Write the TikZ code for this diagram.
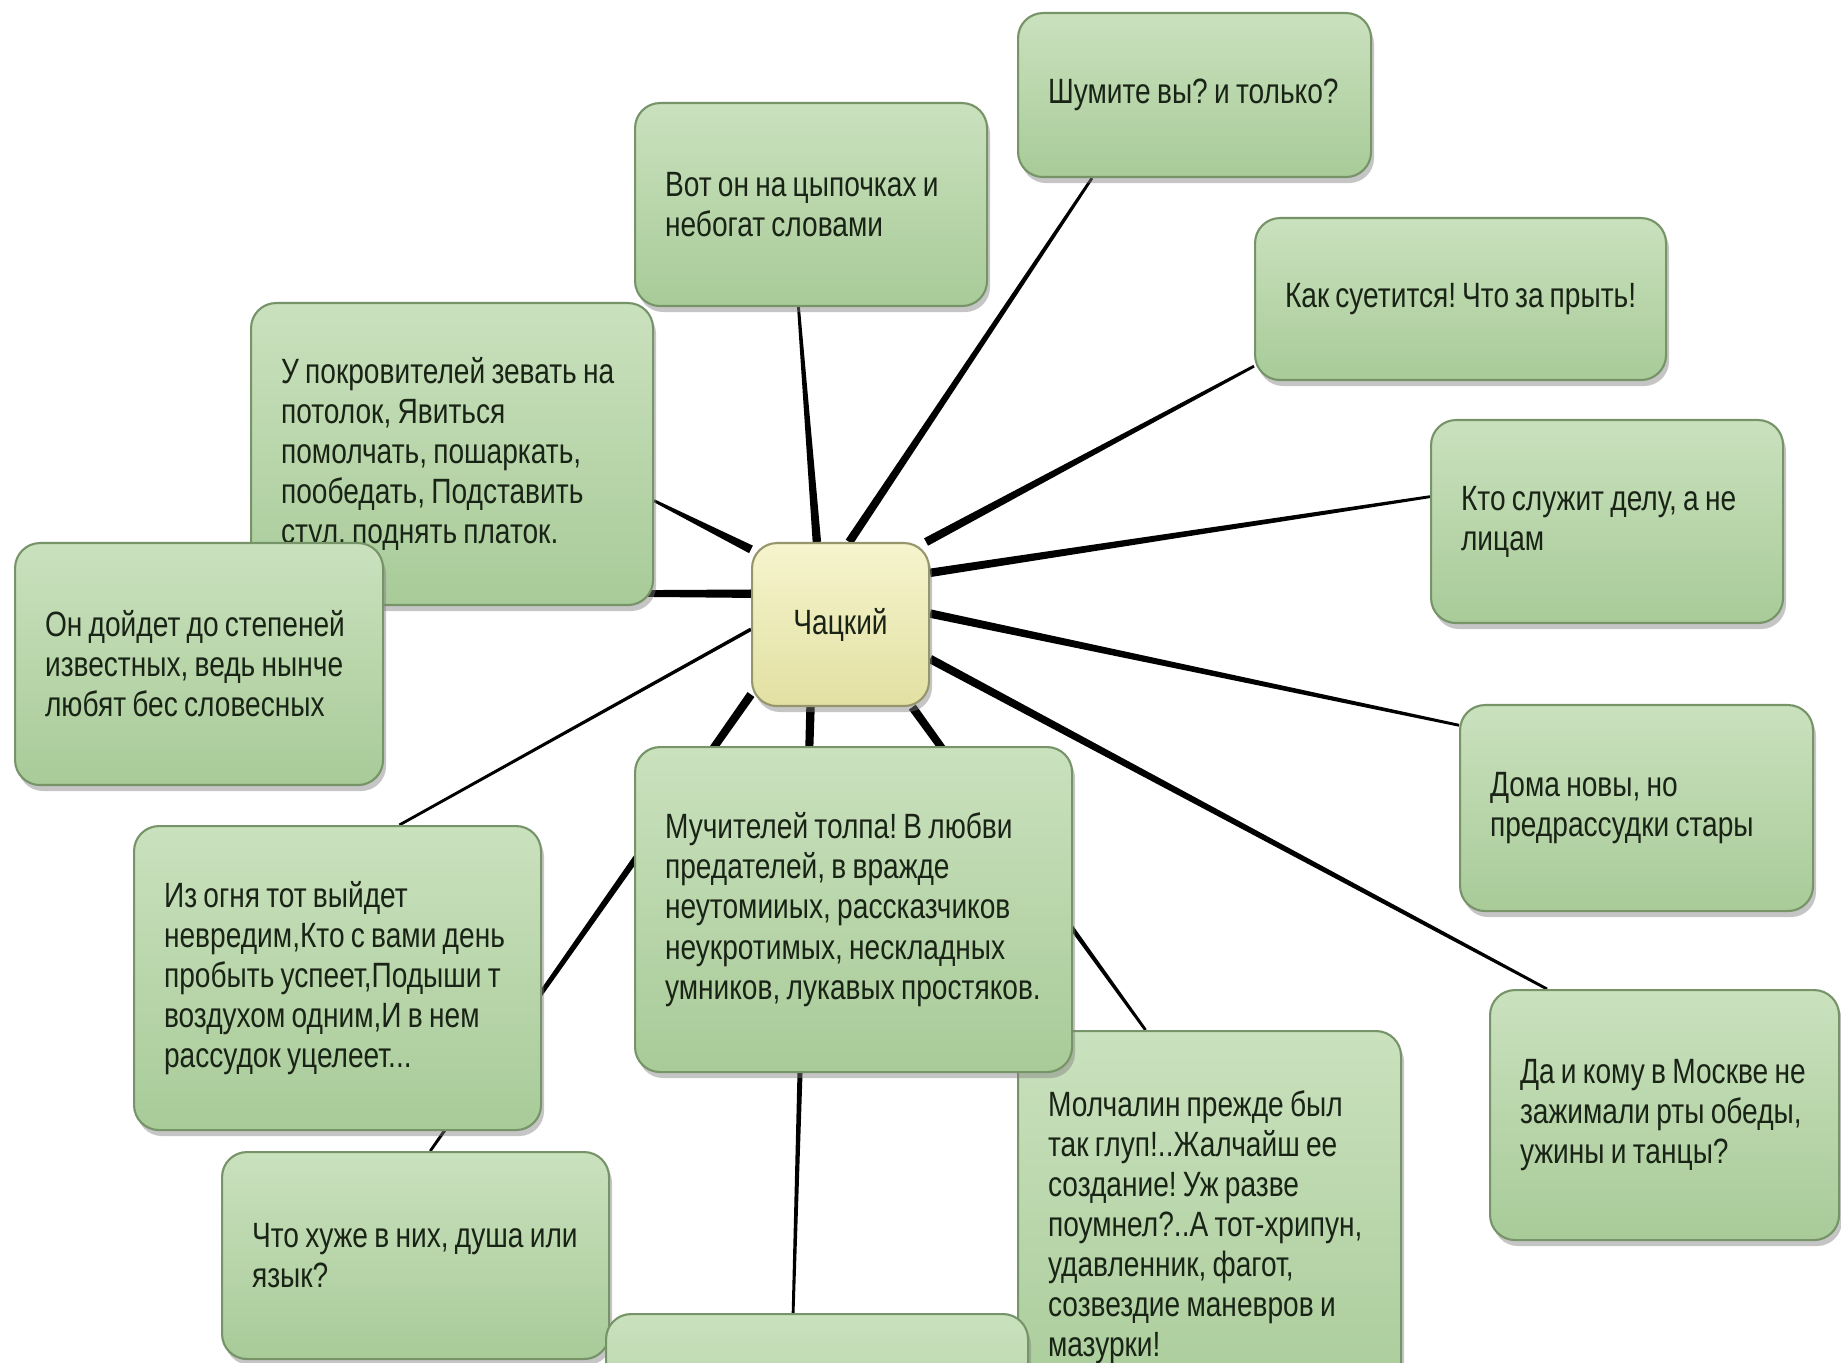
\documentclass[tikz,border=0pt]{standalone}
\usepackage{fontspec}
\setmainfont{Liberation Sans}[FakeStretch=0.8, WordSpace=0.8]
\frenchspacing
\usepackage{tikz}
\usetikzlibrary{shapes,arrows,calc,shadows,backgrounds}

\definecolor{leafTop}{RGB}{202,225,190}
\definecolor{leafBottom}{RGB}{168,203,152}
\definecolor{leafLine}{RGB}{118,148,104}
\definecolor{heroTop}{RGB}{246,244,205}
\definecolor{heroBottom}{RGB}{226,224,162}
\definecolor{heroLine}{RGB}{150,150,108}
\definecolor{quoteInk}{RGB}{26,36,22}

\tikzstyle{quoteBox} = [rectangle, rounded corners=0.25cm, draw=leafLine, line width=0.6pt,
    top color=leafTop, bottom color=leafBottom, text=quoteInk, align=flush left,
    inner xsep=0.3cm, inner ysep=0pt, anchor=north west,
    drop shadow={opacity=0.45, shadow xshift=0.03cm, shadow yshift=-0.06cm},
    font=\fontsize{10}{11.4}\selectfont]
\tikzstyle{heroBox} = [rectangle, rounded corners=0.25cm, draw=heroLine, line width=0.6pt,
    top color=heroTop, bottom color=heroBottom, text=quoteInk, align=center,
    minimum width=1.77cm, minimum height=1.63cm, anchor=north west,
    drop shadow={opacity=0.45, shadow xshift=0.03cm, shadow yshift=-0.06cm},
    font=\fontsize{10}{11.4}\selectfont]
\tikzstyle{spokeFill} = [fill=black]

% tapered spoke: thick at the hub, thin at the quote
\newcommand{\spoke}[3][1.2pt]{%
    \fill[spokeFill] ($(#2)!#1!90:(#3)$) -- ($(#3)!0.4pt!-90:(#2)$)
        -- ($(#3)!0.4pt!90:(#2)$) -- ($(#2)!#1!-90:(#3)$) -- cycle;}

\begin{document}
\begin{tikzpicture}
    \useasboundingbox (0,0) rectangle (18.41,-13.63);
    \clip (0,0) rectangle (18.41,-13.63);

    % Place nodes
    \node[heroBox] (chatsky) at (7.51,-5.42) {Чацкий};
    \node[quoteBox, text width=2.93cm, minimum height=1.64cm] (shumite) at (10.17,-0.12)
        {Шумите вы? и только?};
    \node[quoteBox, text width=2.92cm, minimum height=2.03cm] (votOn) at (6.34,-1.02)
        {Вот он на цыпочках и\\небогат словами};
    \node[quoteBox, text width=3.51cm, minimum height=1.62cm] (suetitsya) at (12.54,-2.17)
        {Как суетится! Что за прыть!};
    \node[quoteBox, text width=3.42cm, minimum height=3.02cm] (pokroviteli) at (2.50,-3.02)
        {У покровителей зевать на\\потолок, Явиться\\помолчать, пошаркать,\\пообедать, Подставить\\стул, поднять платок.};
    \node[quoteBox, text width=3.08cm, minimum height=2.42cm] (doydet) at (0.14,-5.42)
        {Он дойдет до степеней\\известных, ведь нынче\\любят бес словесных};
    \node[quoteBox, text width=2.92cm, minimum height=2.03cm] (sluzhit) at (14.30,-4.19)
        {Кто служит делу, а не\\лицам};
    \node[quoteBox, text width=2.93cm, minimum height=2.06cm] (domaNovy) at (14.59,-7.04)
        {Дома новы, но\\предрассудки стары};
    \node[quoteBox, text width=3.23cm, minimum height=3.92cm] (molchalin) at (10.17,-10.30)
        {Молчалин прежде был\\так глуп!..Жалчайш ее\\создание! Уж разве\\поумнел?..А тот-хрипун,\\удавленник, фагот,\\созвездие маневров и\\мазурки!};
    \node[quoteBox, text width=3.27cm, minimum height=2.07cm] (huzhe) at (2.21,-11.51)
        {Что хуже в них, душа или\\язык?};
    \node[quoteBox, text width=3.62cm, minimum height=1.90cm] (nizhniy) at (6.05,-13.13) {};
    \node[quoteBox, text width=3.77cm, minimum height=3.25cm] (muchiteli) at (6.34,-7.46)
        {Мучителей толпа! В любви\\предателей, в вражде\\неутомииых, рассказчиков\\неукротимых, нескладных\\умников, лукавых простяков.};
    \node[quoteBox, text width=3.47cm, minimum height=3.04cm] (izOgnya) at (1.33,-8.25)
        {Из огня тот выйдет\\невредим,Кто с вами день\\пробыть успеет,Подыши т\\воздухом одним,И в нем\\рассудок уцелеет...};
    \node[quoteBox, text width=2.89cm, minimum height=2.50cm] (moskva) at (14.89,-9.89)
        {Да и кому в Москве не\\зажимали рты обеды,\\ужины и танцы?};

    % Draw spokes behind the boxes
    \begin{scope}[on background layer]
        \fill[white] (0,0) rectangle (18.41,-13.63);
        \spoke{chatsky.106}{votOn.263}
        \spoke{chatsky.84}{shumite.219}
        \spoke{chatsky.44}{suetitsya.198}
        \spoke{chatsky.30}{sluzhit.172}
        \spoke{chatsky.7}{domaNovy.155}
        \spoke{chatsky.339}{moskva.133}
        \spoke{chatsky.311}{molchalin.108}
        \spoke{chatsky.250}{nizhniy.104}
        \spoke{chatsky.218}{huzhe.82}
        \spoke[0.5pt]{chatsky.183}{izOgnya.68}
        \spoke{chatsky.161}{doydet.21}
        \spoke{chatsky.140}{pokroviteli.347}
    \end{scope}
\end{tikzpicture}
\end{document}
